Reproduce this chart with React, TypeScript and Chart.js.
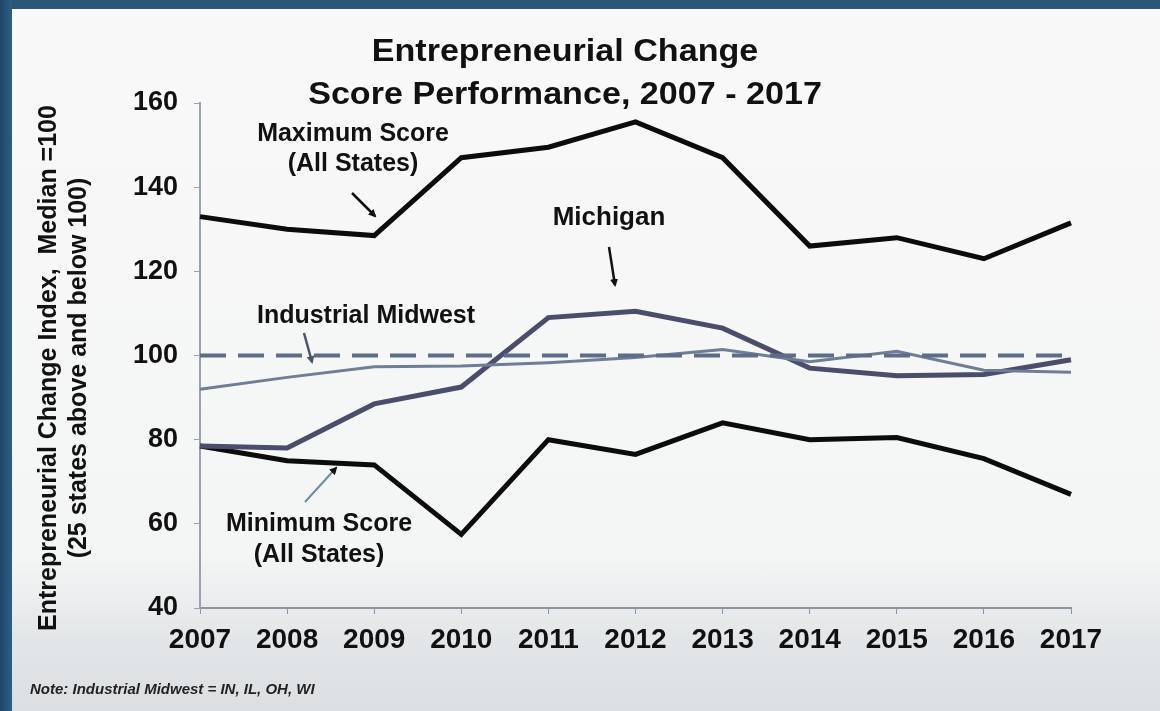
import React, { useEffect, useRef } from "react";
import { Chart, registerables } from "chart.js";

Chart.register(...registerables);

const years = ["2007", "2008", "2009", "2010", "2011", "2012", "2013", "2014", "2015", "2016", "2017"];
const maxScore = [133, 130, 128.5, 147, 149.5, 155.5, 147, 126, 128, 123, 131.5];
const minScore = [78.5, 75, 74, 57.5, 80, 76.5, 84, 80, 80.5, 75.5, 67];
const michigan = [78.5, 78, 88.5, 92.5, 109, 110.5, 106.5, 97, 95.2, 95.5, 99];
const industrialMidwest = [92, 94.8, 97.3, 97.5, 98.3, 99.5, 101.4, 98.5, 101, 96.5, 96];
const median = [100, 100, 100, 100, 100, 100, 100, 100, 100, 100, 100];
const yTicks = [40, 60, 80, 100, 120, 140, 160];

const FONT = "'Liberation Sans', Arial, Helvetica, sans-serif";

const lbl = (extra: React.CSSProperties): React.CSSProperties => ({
  position: "absolute",
  fontFamily: FONT,
  fontWeight: "bold",
  color: "#111",
  whiteSpace: "nowrap",
  ...extra,
});

export default function App() {
  const ref = useRef<HTMLCanvasElement>(null);

  useEffect(() => {
    if (!ref.current) return;
    const chart = new Chart(ref.current, {
      type: "line",
      data: {
        labels: years,
        datasets: [
          { label: "Median", data: median, borderColor: "#5d6c88", borderWidth: 4, borderDash: [26, 12], pointRadius: 0, tension: 0 },
          { label: "Industrial Midwest", data: industrialMidwest, borderColor: "#6f7d97", borderWidth: 3, pointRadius: 0, tension: 0 },
          { label: "Michigan", data: michigan, borderColor: "#4a4d6c", borderWidth: 5, pointRadius: 0, tension: 0 },
          { label: "Maximum Score (All States)", data: maxScore, borderColor: "#0c0c0c", borderWidth: 5, pointRadius: 0, tension: 0 },
          { label: "Minimum Score (All States)", data: minScore, borderColor: "#0c0c0c", borderWidth: 5, pointRadius: 0, tension: 0 },
        ],
      },
      options: {
        animation: false,
        responsive: false,
        maintainAspectRatio: false,
        layout: { padding: { top: 103, right: 89, bottom: 0, left: 0 } },
        plugins: { legend: { display: false }, tooltip: { enabled: false }, title: { display: false } },
        scales: {
          x: {
            type: "category",
            offset: false,
            afterFit: (s: any) => { s.height = 103; },
            grid: { display: true, drawOnChartArea: false, drawTicks: true, tickLength: 6, color: "#8c96a2", tickColor: "#8c96a2" },
            border: { display: true, color: "#8c96a2", width: 2 },
            ticks: { color: "#111", font: { family: FONT, size: 28, weight: "bold" }, padding: 9, maxRotation: 0, autoSkip: false },
          },
          y: {
            min: 40,
            max: 160,
            afterFit: (s: any) => { s.width = 200; },
            afterBuildTicks: (s: any) => { s.ticks = yTicks.map((v) => ({ value: v })); },
            grid: { display: true, drawOnChartArea: false, drawTicks: true, tickLength: 6, color: "#9aa3ad", tickColor: "#9aa3ad" },
            border: { display: true, color: "#9aa3ad", width: 2 },
            ticks: { color: "#111", font: { family: FONT, size: 27, weight: "bold" }, padding: 16 },
          },
        },
      },
    });
    return () => chart.destroy();
  }, []);

  return (
    <div style={{ position: "absolute", left: 0, top: 0, width: 1160, height: 711, overflow: "hidden", background: "linear-gradient(#f9f9f9 0%, #f4f5f5 78%, #e3e6e8 90%, #dcdfe2 100%)" }}>
      <div style={{ position: "absolute", left: 0, top: 0, width: 1160, height: 9, background: "#2a5678" }} />
      <div style={{ position: "absolute", left: 0, top: 0, width: 12, height: 711, background: "linear-gradient(90deg, #1d4668, #2f5f86)" }} />
      <canvas ref={ref} width={1160} height={711} style={{ position: "absolute", left: 0, top: 0, width: 1160, height: 711 }} />

      <div style={lbl({ left: 265, top: 29, width: 600, textAlign: "center", fontSize: 31, lineHeight: "43px", transform: "scaleX(1.1)", transformOrigin: "50% 50%" })}>
        Entrepreneurial Change<br />Score Performance, 2007 - 2017
      </div>

      <div style={lbl({ left: 62 - 300, top: 368 - 30, width: 600, height: 60, textAlign: "center", fontSize: 25, lineHeight: "30px", transform: "rotate(-90deg)", transformOrigin: "50% 50%" })}>
        Entrepreneurial Change Index,&nbsp; Median =100<br />(25 states above and below 100)
      </div>

      <div style={lbl({ left: 203, top: 117, width: 300, textAlign: "center", fontSize: 25, lineHeight: "30px" })}>
        Maximum Score<br />(All States)
      </div>
      <div style={lbl({ left: 216, top: 299, width: 300, textAlign: "center", fontSize: 25, lineHeight: "30px" })}>
        Industrial Midwest
      </div>
      <div style={lbl({ left: 509, top: 201, width: 200, textAlign: "center", fontSize: 26, lineHeight: "30px" })}>
        Michigan
      </div>
      <div style={lbl({ left: 169, top: 507, width: 300, textAlign: "center", fontSize: 25, lineHeight: "31px" })}>
        Minimum Score<br />(All States)
      </div>
      <div style={lbl({ left: 30, top: 680, fontSize: 15, fontStyle: "italic", color: "#222" })}>
        Note: Industrial Midwest = IN, IL, OH, WI
      </div>

      <svg width={1160} height={711} style={{ position: "absolute", left: 0, top: 0, pointerEvents: "none" }}>
        <defs>
          <marker id="ah" markerWidth="8" markerHeight="8" refX="6" refY="4" orient="auto" markerUnits="userSpaceOnUse">
            <path d="M0,0 L8,4 L0,8 Z" fill="#111" />
          </marker>
          <marker id="ah2" markerWidth="8" markerHeight="8" refX="6" refY="4" orient="auto" markerUnits="userSpaceOnUse">
            <path d="M0,0 L8,4 L0,8 Z" fill="#4a5570" />
          </marker>
        </defs>
        <line x1={352} y1={193} x2={375} y2={216} stroke="#111" strokeWidth={2.5} markerEnd="url(#ah)" />
        <line x1={609} y1={247} x2={615} y2={285} stroke="#111" strokeWidth={2.5} markerEnd="url(#ah)" />
        <line x1={304} y1={333} x2={312} y2={362} stroke="#4a5570" strokeWidth={2.5} markerEnd="url(#ah2)" />
        <line x1={305} y1={502} x2={336} y2={468} stroke="#6f8aa8" strokeWidth={2} markerEnd="url(#ah)" />
      </svg>
    </div>
  );
}
